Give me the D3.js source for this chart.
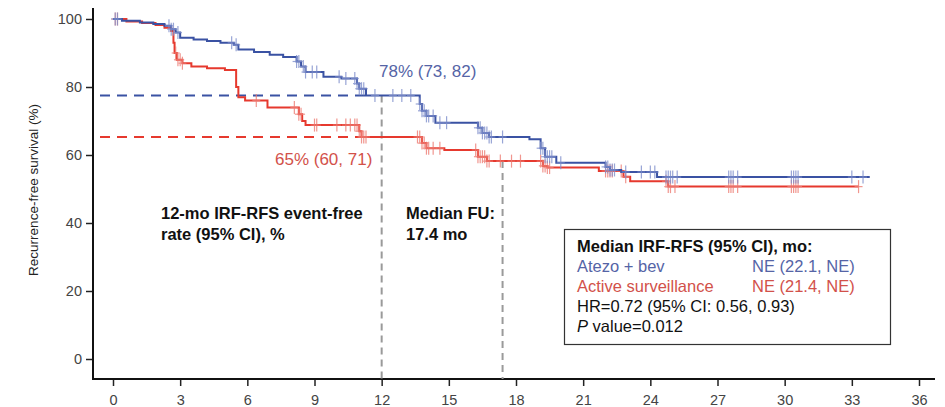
<!DOCTYPE html>
<html>
<head>
<meta charset="utf-8">
<title>IRF-RFS Kaplan-Meier</title>
<script src="https://cdn.jsdelivr.net/npm/d3@7"></script>
<style>
body { margin: 0; background: #fff; }
svg { font-family: "Liberation Sans", Arial, sans-serif; }
.tick text { fill: #444; font-size: 14.5px; }
</style>
</head>
<body>
<svg class="chart"></svg>
<script>
// ---- data ----
// Atezo + bev step curve: time (mo), survival (%)
var blueTimes = [0, 0.4, 1.2, 1.8, 2.3, 2.6, 2.8, 3.0, 3.6, 4.2, 4.8, 5.4, 5.6, 6.3, 7.0, 7.6, 8.2, 8.4, 8.6, 9.4, 10.2, 10.9, 11.0, 11.3, 13.7, 13.8, 14.0, 14.4, 16.3, 16.5, 16.8, 18.6, 19.1, 19.3, 19.8, 22.0, 22.2, 22.7, 24.3, 33.8];
var blueSurv  = [100, 99.5, 99, 98.5, 98, 97, 96, 94.5, 94, 93.5, 93, 92.4, 91, 90.3, 89.5, 88.8, 87.5, 86, 84.4, 83, 82.5, 81, 79.5, 77.5, 75, 73, 71.5, 69.5, 68, 66.5, 65.3, 64.6, 62, 59.5, 57.7, 56.5, 55.6, 55, 53.5, 53.5];
// Active surveillance step curve
var redTimes = [0, 0.6, 1.3, 1.9, 2.3, 2.6, 2.7, 2.75, 2.85, 3.1, 3.5, 4.2, 5.0, 5.5, 5.6, 5.9, 6.9, 8.3, 8.45, 8.6, 11.0, 11.1, 13.8, 14.0, 14.8, 16.3, 16.7, 19.2, 19.4, 21.7, 22.8, 23.1, 24.8, 33.3];
var redSurv  = [100, 99.3, 98.8, 98.2, 97.4, 96.5, 93, 90, 88, 87, 86, 85.5, 85, 80, 77, 76, 74, 72, 70, 68.8, 67, 65.3, 63.5, 62, 61.5, 59.5, 58.2, 56.8, 56.3, 55.3, 53.6, 52.3, 50.7, 50.7];
// censoring times
var blueCensor = [0.1, 0.2, 2.5, 2.6, 2.7, 2.9, 5.3, 5.5, 8.2, 8.3, 8.5, 8.6, 8.9, 9.1, 10.1, 10.4, 10.8, 10.9, 11.0, 11.1, 11.2, 11.7, 12.5, 12.9, 13.3, 13.7, 13.8, 13.9, 14.0, 14.1, 14.3, 14.6, 14.9, 16.3, 16.4, 16.5, 16.6, 16.7, 16.8, 16.9, 17.4, 19.1, 19.2, 19.3, 19.4, 19.5, 19.6, 20.0, 22.0, 22.1, 22.2, 22.3, 22.4, 22.9, 23.6, 24.0, 24.2, 24.7, 24.8, 24.9, 25.0, 25.2, 27.5, 27.6, 27.7, 27.9, 30.3, 30.4, 30.5, 30.6, 33.0, 33.5];
var redCensor = [0.1, 0.2, 2.8, 2.9, 3.0, 3.1, 6.4, 8.1, 8.3, 8.4, 9.0, 9.1, 10.0, 10.4, 10.6, 10.8, 10.9, 11.0, 11.1, 11.2, 11.3, 13.6, 13.7, 13.8, 13.9, 14.0, 14.1, 14.3, 14.6, 16.2, 16.3, 16.4, 16.5, 16.6, 16.7, 16.8, 17.3, 17.8, 18.2, 19.1, 19.2, 19.3, 19.4, 19.5, 22.0, 22.1, 22.2, 22.3, 22.7, 22.9, 24.7, 24.8, 24.9, 25.1, 27.5, 27.6, 27.7, 27.9, 30.3, 30.4, 30.5, 30.6, 33.3];

var xTicks = [0, 3, 6, 9, 12, 15, 18, 21, 24, 27, 30, 33, 36];
var yTicks = [0, 20, 40, 60, 80, 100];

var blueRate12 = 77.5, redRate12 = 65.3;   // 12-mo event-free rates (dashed lines)
var landmark = 12, medianFU = 17.4;

var blueCol = "#3a52a3", redCol = "#e6392e";

// ---- chart ----
var width = 945, height = 407;
var svg = d3.select(".chart").attr("width", width).attr("height", height);

var x = d3.scaleLinear().domain([0, 36]).range([113, 919]);
var y = d3.scaleLinear().domain([0, 100]).range([359, 19]);

var axisX0 = 93, axisY0 = 379;

// axes
var yAxis = d3.axisLeft(y).tickValues(yTicks).tickSize(7).tickPadding(4);
svg.append("g").attr("transform", "translate(" + axisX0 + ",0)").call(yAxis)
	.call(function(g){ g.select(".domain").remove(); })
	.selectAll("line").attr("stroke", "#222").attr("stroke-width", 1.5);

var xAxis = d3.axisBottom(x).tickValues(xTicks).tickSize(7).tickPadding(9);
svg.append("g").attr("transform", "translate(0," + axisY0 + ")").call(xAxis)
	.call(function(g){ g.select(".domain").remove(); })
	.selectAll("line").attr("stroke", "#222").attr("stroke-width", 1.5);

svg.append("line").attr("x1", axisX0).attr("x2", axisX0).attr("y1", 8).attr("y2", axisY0 + 1)
	.attr("stroke", "#111").attr("stroke-width", 2);
svg.append("line").attr("x1", axisX0 - 1).attr("x2", 935).attr("y1", axisY0).attr("y2", axisY0)
	.attr("stroke", "#111").attr("stroke-width", 2);

svg.append("text")
	.attr("transform", "translate(38," + 190 + ") rotate(-90)")
	.attr("text-anchor", "middle")
	.style("font-size", "13.5px").style("fill", "#222")
	.text("Recurrence-free survival (%)");

// reference lines
function stepAt(times, surv, t){
	var v = surv[0];
	for(var i = 0; i < times.length; i++){ if(times[i] <= t) v = surv[i]; }
	return v;
}

svg.append("line").attr("x1", x(landmark)).attr("x2", x(landmark))
	.attr("y1", y(blueRate12)).attr("y2", axisY0)
	.attr("stroke", "#9a9a9a").attr("stroke-width", 2).attr("stroke-dasharray", "7,5");
svg.append("line").attr("x1", x(medianFU)).attr("x2", x(medianFU))
	.attr("y1", y(stepAt(redTimes, redSurv, medianFU))).attr("y2", axisY0)
	.attr("stroke", "#9a9a9a").attr("stroke-width", 2).attr("stroke-dasharray", "7,5");

svg.append("line").attr("x1", 100).attr("x2", x(11.3))
	.attr("y1", y(blueRate12)).attr("y2", y(blueRate12))
	.attr("stroke", blueCol).attr("stroke-width", 2).attr("stroke-dasharray", "10,7");
svg.append("line").attr("x1", 100).attr("x2", x(11.1))
	.attr("y1", y(redRate12)).attr("y2", y(redRate12))
	.attr("stroke", redCol).attr("stroke-width", 2).attr("stroke-dasharray", "10,7");

// curves
var line = d3.line()
	.x(function(d){ return x(d[0]); })
	.y(function(d){ return y(d[1]); })
	.curve(d3.curveStepAfter);

function drawArm(times, surv, censor, col, markCol){
	var pts = times.map(function(t, i){ return [t, surv[i]]; });
	svg.append("path").datum(pts).attr("d", line)
		.attr("fill", "none").attr("stroke", col).attr("stroke-width", 2);
	var g = svg.append("g").attr("stroke", markCol).attr("stroke-width", 1.2).attr("opacity", 0.8);
	g.selectAll(".cv").data(censor).enter().append("line")
		.attr("x1", function(d){ return x(d); }).attr("x2", function(d){ return x(d); })
		.attr("y1", function(d){ return y(stepAt(times, surv, d)) - 6.5; })
		.attr("y2", function(d){ return y(stepAt(times, surv, d)) + 6.5; });
	g.selectAll(".ch").data(censor).enter().append("line")
		.attr("x1", function(d){ return x(d) - 4; }).attr("x2", function(d){ return x(d) + 4; })
		.attr("y1", function(d){ return y(stepAt(times, surv, d)); })
		.attr("y2", function(d){ return y(stepAt(times, surv, d)); });
}

drawArm(redTimes, redSurv, redCensor, redCol, "#ee7d74");
drawArm(blueTimes, blueSurv, blueCensor, blueCol, "#7f8fcc");

// annotations
svg.append("text").attr("x", 379).attr("y", 77)
	.style("font-size", "17px").style("fill", "#5564a6").text("78% (73, 82)");
svg.append("text").attr("x", 275).attr("y", 165)
	.style("font-size", "17px").style("fill", "#d2514a").text("65% (60, 71)");

var bold = svg.append("g").style("font-size", "16.5px").style("font-weight", "bold").style("fill", "#111");
bold.append("text").attr("x", 161).attr("y", 219).text("12-mo IRF-RFS event-free");
bold.append("text").attr("x", 161).attr("y", 240).text("rate (95% CI), %");
bold.append("text").attr("x", 406).attr("y", 219).text("Median FU:");
bold.append("text").attr("x", 406).attr("y", 240).text("17.4 mo");

// info box
svg.append("rect").attr("x", 564.5).attr("y", 229.5).attr("width", 326).attr("height", 115)
	.attr("fill", "#fff").attr("stroke", "#333").attr("stroke-width", 1.2);
var box = svg.append("g").style("font-size", "16.5px");
box.append("text").attr("x", 577).attr("y", 252).style("font-weight", "bold").style("fill", "#111")
	.text("Median IRF-RFS (95% CI), mo:");
box.append("text").attr("x", 577).attr("y", 272).style("fill", "#5564a6").text("Atezo + bev");
box.append("text").attr("x", 752).attr("y", 272).style("fill", "#5564a6").text("NE (22.1, NE)");
box.append("text").attr("x", 577).attr("y", 292).style("fill", "#d2514a").text("Active surveillance");
box.append("text").attr("x", 752).attr("y", 292).style("fill", "#d2514a").text("NE (21.4, NE)");
box.append("text").attr("x", 577).attr("y", 312).style("fill", "#111").text("HR=0.72 (95% CI: 0.56, 0.93)");
var pv = box.append("text").attr("x", 577).attr("y", 332).style("fill", "#111");
pv.append("tspan").style("font-style", "italic").text("P");
pv.append("tspan").text(" value=0.012");
</script>
</body>
</html>
